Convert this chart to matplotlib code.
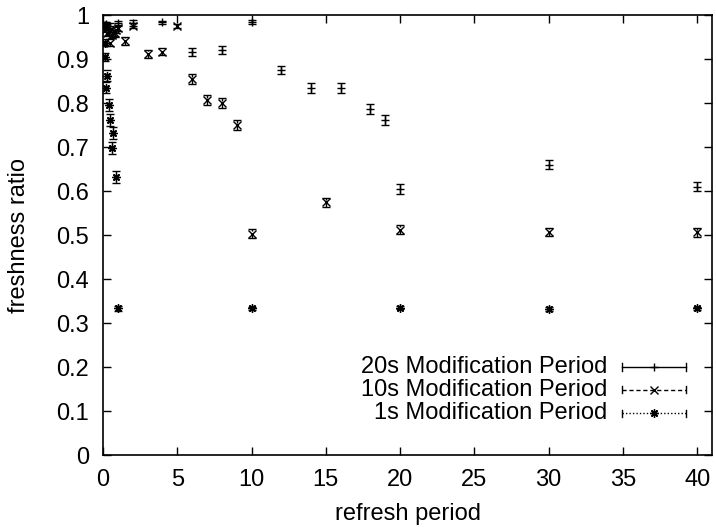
import numpy as np
import matplotlib.pyplot as plt
from matplotlib.lines import Line2D

plt.rcParams['font.family'] = ['Liberation Sans', 'DejaVu Sans']

# 20s modification period
x20 = [0.1, 0.2, 0.5, 1, 2, 4, 6, 8, 10, 12, 14, 16, 18, 19, 20, 30, 40]
y20 = [0.978, 0.98, 0.976, 0.982, 0.982, 0.983, 0.916, 0.92, 0.984, 0.875,
       0.834, 0.834, 0.786, 0.761, 0.605, 0.66, 0.61]
e20 = [0.005, 0.005, 0.005, 0.005, 0.006, 0.004, 0.009, 0.009, 0.004, 0.01,
       0.011, 0.011, 0.011, 0.012, 0.011, 0.011, 0.011]

# 10s modification period
x10 = [0.1, 0.2, 0.3, 0.4, 0.5, 0.6, 0.7, 0.8, 0.9, 1, 1.5, 2, 3, 4, 5,
       6, 7, 8, 9, 10, 15, 20, 30, 40]
y10 = [0.975, 0.968, 0.96, 0.962, 0.937, 0.955, 0.96, 0.958, 0.965, 0.97,
       0.94, 0.976, 0.911, 0.917, 0.975, 0.855, 0.807, 0.80, 0.75, 0.503,
       0.574, 0.512, 0.507, 0.506]
e10 = [0.006, 0.006, 0.007, 0.007, 0.008, 0.007, 0.007, 0.007, 0.007, 0.006,
       0.009, 0.006, 0.009, 0.009, 0.004, 0.011, 0.012, 0.012, 0.012, 0.01,
       0.011, 0.01, 0.009, 0.01]

# 1s modification period
x1 = [0.05, 0.1, 0.15, 0.25, 0.2, 0.4, 0.5, 0.7, 0.6, 0.9, 1, 10, 20, 30, 40]
y1 = [0.975, 0.937, 0.905, 0.862, 0.835, 0.795, 0.761, 0.732, 0.698, 0.632,
      0.333, 0.333, 0.335, 0.332, 0.333]
e1 = [0.006, 0.008, 0.009, 0.012, 0.012, 0.013, 0.013, 0.013, 0.013, 0.014,
      0.005, 0.004, 0.004, 0.004, 0.004]

labels = ['20s Modification Period', '10s Modification Period', '1s Modification Period']
line_styles = ['-', (0, (3, 2)), (0, (1, 1.5))]
markers = ['+', 'x', (8, 2, 0)]
FS = 17

fig = plt.figure(figsize=(7.16, 5.27), dpi=100)
ax = fig.add_axes([0.1439, 0.1366, 0.8505, 0.8349])

series = [(x20, y20, e20), (x10, y10, e10), (x1, y1, e1)]
for (xs, ys, es), ls, mk in zip(series, line_styles, markers):
    eb = ax.errorbar(xs, ys, yerr=es, fmt='none', ecolor='black',
                     elinewidth=1.0, capsize=3, capthick=1.0)
    for coll in eb[2]:
        coll.set_linestyle(ls)
    ax.plot(xs, ys, linestyle='none', marker=mk, color='black',
            markersize=6, markeredgewidth=1.0)

# gnuplot style key
rows = [0.2, 0.148, 0.095]
for yy, lab, ls, mk in zip(rows, labels, line_styles, markers):
    ax.text(0.828, yy, lab, transform=ax.transAxes, ha='right', va='center',
            fontsize=FS)
    ax.add_line(Line2D([0.852, 0.957], [yy, yy], transform=ax.transAxes,
                       color='black', lw=1.0, linestyle=ls))
    for xe in (0.852, 0.957):
        ax.add_line(Line2D([xe, xe], [yy - 0.008, yy + 0.008],
                           transform=ax.transAxes, color='black', lw=1.0))
    ax.add_line(Line2D([0.9045], [yy], transform=ax.transAxes, marker=mk,
                       color='black', markersize=6, markeredgewidth=1.0))

ax.set_xlim(0, 41)
ax.set_ylim(0, 1)
ax.set_xticks(np.arange(0, 41, 5))
ax.set_yticks(np.arange(0, 1.01, 0.1))
ax.set_yticklabels(['0', '0.1', '0.2', '0.3', '0.4', '0.5', '0.6', '0.7',
                    '0.8', '0.9', '1'])
ax.tick_params(direction='in', top=True, right=True, length=6, width=1,
               labelsize=FS)
ax.tick_params(axis='y', pad=10)
ax.tick_params(axis='x', pad=10)
for sp in ax.spines.values():
    sp.set_linewidth(1.2)
ax.set_xlabel('refresh period', fontsize=FS)
ax.set_ylabel('freshness ratio', fontsize=FS)
ax.xaxis.set_label_coords(0.5, -0.108)
ax.yaxis.set_label_coords(-0.12, 0.5)

fig.savefig('out.png', dpi=100)
